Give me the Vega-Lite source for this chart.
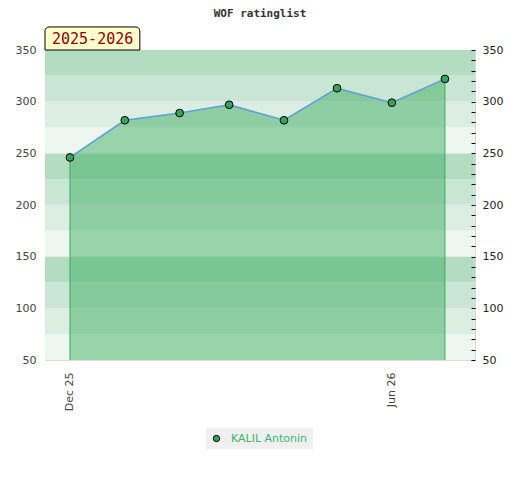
{
  "$schema": "https://vega.github.io/schema/vega-lite/v6.json",
  "width": 430,
  "height": 310,
  "autosize": "none",
  "padding": {"left": 45, "top": 50, "right": 45, "bottom": 120},
  "background": "white",
  "title": {"text": "WOF ratinglist", "font": "DejaVu Sans Mono", "fontSize": 11, "fontWeight": "bold", "color": "#333333", "offset": 7},
  "config": {
    "view": {"stroke": "#d9d9d9", "strokeWidth": 1},
    "axis": {"labelFont": "DejaVu Sans", "labelFontSize": 11, "labelColor": "#444444", "grid": false, "domain": false}
  },
  "datasets": {
    "ratings": [
      {"player": "KALIL Antonin", "date": "2025-12-01", "rating": 246},
      {"player": "KALIL Antonin", "date": "2026-01-01", "rating": 282},
      {"player": "KALIL Antonin", "date": "2026-02-01", "rating": 289},
      {"player": "KALIL Antonin", "date": "2026-03-01", "rating": 297},
      {"player": "KALIL Antonin", "date": "2026-04-01", "rating": 282},
      {"player": "KALIL Antonin", "date": "2026-05-01", "rating": 313},
      {"player": "KALIL Antonin", "date": "2026-06-01", "rating": 299},
      {"player": "KALIL Antonin", "date": "2026-07-01", "rating": 322}
    ],
    "bands": [
      {"lo": 325, "hi": 350, "tier": 1},
      {"lo": 300, "hi": 325, "tier": 2},
      {"lo": 275, "hi": 300, "tier": 3},
      {"lo": 250, "hi": 275, "tier": 4},
      {"lo": 225, "hi": 250, "tier": 1},
      {"lo": 200, "hi": 225, "tier": 2},
      {"lo": 175, "hi": 200, "tier": 3},
      {"lo": 150, "hi": 175, "tier": 4},
      {"lo": 125, "hi": 150, "tier": 1},
      {"lo": 100, "hi": 125, "tier": 2},
      {"lo": 75, "hi": 100, "tier": 3},
      {"lo": 50, "hi": 75, "tier": 4}
    ],
    "season": [{"label": "2025-2026"}]
  },
  "resolve": {"scale": {"fill": "independent", "color": "independent"}, "axis": {"y": "independent"}},
  "layer": [
    {
      "data": {"name": "bands"},
      "mark": {"type": "rect"},
      "encoding": {
        "y": {"field": "lo", "type": "quantitative", "scale": {"domain": [50, 350], "nice": false, "zero": false},
              "axis": {"orient": "left", "values": [50, 100, 150, 200, 250, 300, 350], "ticks": false, "labelPadding": 9, "title": null}},
        "y2": {"field": "hi"},
        "fill": {"field": "tier", "type": "ordinal", "scale": {"domain": [1, 2, 3, 4], "range": ["#b3dcc1", "#c9e5d3", "#dcede2", "#eef6f0"]}, "legend": null}
      }
    },
    {
      "data": {"name": "bands"},
      "transform": [{"filter": "datum.hi % 50 == 0 && datum.hi < 350"}],
      "mark": {"type": "rule", "color": "#e6e6e6", "strokeWidth": 1},
      "encoding": {
        "y": {"field": "hi", "type": "quantitative", "axis": null}
      }
    },
    {
      "data": {"name": "ratings"},
      "mark": {"type": "area", "fill": "#41af63", "fillOpacity": 0.5},
      "encoding": {
        "x": {"field": "date", "type": "temporal",
              "scale": {"type": "utc", "domain": [{"year": 2025, "month": 11, "date": 16, "hours": 21, "utc": true}, {"year": 2026, "month": 7, "date": 18, "utc": true}]},
              "axis": {"values": [{"year": 2025, "month": 12, "date": 1, "utc": true}, {"year": 2026, "month": 6, "date": 1, "utc": true}], "format": "%b %y", "labelAngle": -90, "ticks": false, "labelPadding": 12, "title": null, "grid": false}},
        "y": {"field": "rating", "type": "quantitative",
              "axis": {"orient": "right", "zindex": 1, "values": [50, 60, 70, 80, 90, 100, 110, 120, 130, 140, 150, 160, 170, 180, 190, 200, 210, 220, 230, 240, 250, 260, 270, 280, 290, 300, 310, 320, 330, 340, 350],
                       "labelExpr": "datum.value % 50 == 0 ? datum.label : ''", "ticks": true, "tickSize": -4, "tickColor": "#000000", "tickWidth": 1, "labelPadding": 11, "labelColor": "#222222", "title": null}},
        "y2": {"datum": 50}
      }
    },
    {
      "data": {"name": "ratings"},
      "transform": [
        {"joinaggregate": [{"op": "min", "field": "date", "as": "first"}, {"op": "max", "field": "date", "as": "last"}]},
        {"filter": "datum.date == datum.first || datum.date == datum.last"}
      ],
      "mark": {"type": "rule", "color": "#3cab62", "strokeWidth": 1},
      "encoding": {
        "x": {"field": "date", "type": "temporal"},
        "y": {"field": "rating", "type": "quantitative", "axis": null},
        "y2": {"datum": 50}
      }
    },
    {
      "data": {"name": "ratings"},
      "mark": {"type": "line", "color": "#5b9fd8", "strokeWidth": 1.5},
      "encoding": {
        "x": {"field": "date", "type": "temporal"},
        "y": {"field": "rating", "type": "quantitative", "axis": null}
      }
    },
    {
      "data": {"name": "ratings"},
      "mark": {"type": "point", "shape": "circle", "filled": true, "size": 60, "stroke": "#000000", "strokeWidth": 1, "opacity": 1},
      "encoding": {
        "x": {"field": "date", "type": "temporal"},
        "y": {"field": "rating", "type": "quantitative", "axis": null},
        "color": {"field": "player", "type": "nominal", "scale": {"range": ["#34a35f"]},
                  "legend": {"orient": "none", "legendX": 161, "legendY": 378, "direction": "horizontal", "title": null, "fillColor": "#f0f0f0", "padding": 5,
                             "labelColor": "#3cb371", "labelFont": "DejaVu Sans", "labelFontSize": 11, "labelOffset": 9,
                             "symbolType": "circle", "symbolSize": 40, "symbolStrokeColor": "#000000", "symbolStrokeWidth": 1}}
      }
    },
    {
      "data": {"name": "season"},
      "mark": {"type": "rect", "fill": "#ffffcc", "stroke": "#000000", "strokeWidth": 1, "cornerRadiusTopLeft": 4, "cornerRadiusTopRight": 4},
      "encoding": {
        "x": {"datum": {"year": 2025, "month": 11, "date": 16, "hours": 21, "utc": true}, "type": "temporal"},
        "x2": {"datum": {"year": 2026, "month": 1, "date": 9, "hours": 12, "utc": true}},
        "y": {"datum": 350, "type": "quantitative", "axis": null},
        "y2": {"datum": 372.3}
      }
    },
    {
      "data": {"name": "season"},
      "mark": {"type": "text", "font": "DejaVu Sans Mono", "fontSize": 15, "color": "#8b0000", "align": "left", "baseline": "middle", "dx": 7, "dy": -11},
      "encoding": {
        "x": {"datum": {"year": 2025, "month": 11, "date": 16, "hours": 21, "utc": true}, "type": "temporal"},
        "y": {"datum": 350, "type": "quantitative", "axis": null},
        "text": {"field": "label"}
      }
    }
  ]
}
